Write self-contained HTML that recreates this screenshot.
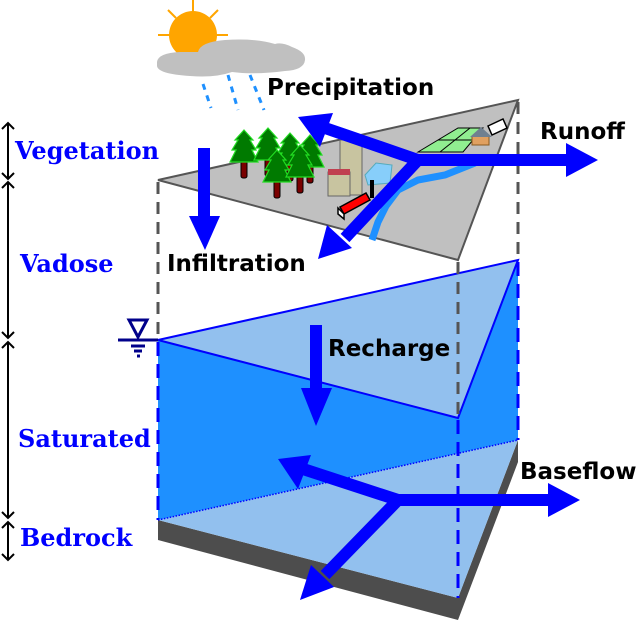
<!DOCTYPE html>
<html><head><meta charset="utf-8"><style>
html,body{margin:0;padding:0;background:#fff;}
svg{display:block;}
.lab{font-family:"DejaVu Serif","Liberation Serif",serif;font-weight:bold;font-size:24px;fill:#0000ff;}
.t{font-family:"DejaVu Sans","Liberation Sans",sans-serif;font-weight:bold;font-size:23px;fill:#000;}
</style></head><body>
<svg width="638" height="625" viewBox="0 0 638 625" xmlns="http://www.w3.org/2000/svg">
<defs>
<g id="tree">
<rect x="-3" y="28" width="6" height="20" rx="2" fill="#7a0000" stroke="#000" stroke-width="1"/>
<polygon points="0,0 9,10 6,10 12,20 8,20 14,32 -14,32 -8,20 -12,20 -6,10 -9,10" fill="#007a00" stroke="#22dd22" stroke-width="1.2"/>
</g>
</defs>
<polygon points="158,520 458,598 518,440 518,462 458,620 158,540" fill="#4d4d4d"/>
<polygon points="158,520 518,440 458,598" fill="#92c0ee"/>
<polygon points="158,340 458,418 518,260 518,440 158,520" fill="#1e90ff"/>
<polygon points="158,340 518,260 458,418" fill="#92c0ee" stroke="#0000ff" stroke-width="2"/>
<line x1="158" y1="520" x2="518" y2="440" stroke="#0000ff" stroke-width="1.5" stroke-dasharray="1.5,1.5"/>
<line x1="158" y1="182" x2="158" y2="340" stroke="#555" stroke-width="3" stroke-dasharray="12,8"/>
<line x1="458" y1="262" x2="458" y2="418" stroke="#555" stroke-width="3" stroke-dasharray="12,8"/>
<line x1="518" y1="102" x2="518" y2="260" stroke="#555" stroke-width="3" stroke-dasharray="12,8"/>
<line x1="158" y1="342" x2="158" y2="520" stroke="#0000ff" stroke-width="3" stroke-dasharray="14,8"/>
<line x1="458" y1="420" x2="458" y2="598" stroke="#0000ff" stroke-width="3" stroke-dasharray="14,8"/>
<line x1="518" y1="262" x2="518" y2="440" stroke="#0000ff" stroke-width="3" stroke-dasharray="14,8"/>
<polygon points="158,180 518,100 458,260" fill="#c0c0c0" stroke="#555" stroke-width="2"/>
<path d="M475,163 L445,175 L418,180 L398,190 L386,206 L378,222 L372,240" fill="none" stroke="#1e90ff" stroke-width="7"/>
<polygon points="418,152 458,128 483,128 463,152" fill="#90ee90" stroke="#000" stroke-width="1"/>
<line x1="438" y1="140" x2="473" y2="140" stroke="#000"/>
<line x1="440" y1="152" x2="470" y2="128" stroke="#000"/>
<polygon points="488,126 503,119 507,128 492,135" fill="#fff" stroke="#000" stroke-width="1.5"/>
<rect x="472" y="136" width="17" height="9" fill="#e0a060" stroke="#8a5a20"/>
<polygon points="470,137 481,127 492,137" fill="#708090"/>
<rect x="340" y="140" width="22" height="55" fill="#c8c4a0" stroke="#666"/>
<rect x="328" y="172" width="22" height="24" fill="#c8c4a0" stroke="#666"/>
<rect x="328" y="169" width="22" height="6" fill="#c04050"/>
<polygon points="365,175 376,163 392,165 390,183 368,185" fill="#87cefa" stroke="#5ab"/>
<rect x="370" y="180" width="4" height="18" fill="#000"/>
<polygon points="340,207 366,193 370,200 344,214" fill="#ff0000" stroke="#000" stroke-width="1.5"/>
<polygon points="338,208 344,214 344,219 338,214" fill="#fff" stroke="#000" stroke-width="1.5"/>
<use href="#tree" x="244" y="130"/>
<use href="#tree" x="268" y="128"/>
<use href="#tree" x="290" y="133"/>
<use href="#tree" x="310" y="135"/>
<use href="#tree" x="277" y="150"/>
<use href="#tree" x="300" y="145"/>
<g stroke="#ffa500" stroke-width="2">
<line x1="193" y1="0" x2="193" y2="12"/><line x1="158" y1="35" x2="170" y2="35"/><line x1="216" y1="35" x2="228" y2="35"/>
<line x1="168" y1="10" x2="176" y2="18"/><line x1="218" y1="10" x2="210" y2="18"/>
</g>
<circle cx="193" cy="35" r="24" fill="#ffa500"/>
<path d="M157,62 Q158,53 180,52 L198,52 Q200,42 225,40 Q255,38 275,44 Q282,42 292,47 Q306,52 305,60 Q304,70 285,71 Q255,75 232,72 Q215,78 190,76 Q158,74 157,66 Z" fill="#c0c0c0"/>
<g stroke="#1e90ff" stroke-width="3" stroke-dasharray="6,6">
<line x1="203" y1="84" x2="211" y2="108"/><line x1="228" y1="75" x2="238" y2="110"/><line x1="250" y1="75" x2="264" y2="110"/>
</g>
<g fill="#0000ff" stroke="none">
<rect x="198" y="148" width="12" height="70"/>
<polygon points="189,216 220,216 205,250"/>
<rect x="310" y="325" width="12" height="65"/>
<polygon points="301,388 332,388 316,426"/>
</g>
<g stroke="#0000ff" stroke-width="12" fill="none">
<polyline points="325,128 418,160 575,160"/>
<line x1="418" y1="160" x2="345" y2="238"/>
<polyline points="300,468 398,500 555,500"/>
<line x1="398" y1="500" x2="325" y2="575"/>
</g>
<g fill="#0000ff">
<polygon points="298,117 333,113 320,147"/>
<polygon points="598,160 566,143 566,177"/>
<polygon points="318,259 327,225 352,248"/>
<polygon points="278,459 311,455 298,489"/>
<polygon points="580,500 548,483 548,517"/>
<polygon points="300,600 311,565 334,587"/>
</g>
<text class="t" x="267" y="95">Precipitation</text>
<text class="t" x="540" y="139">Runoff</text>
<text class="t" x="167" y="271">Infiltration</text>
<text class="t" x="328" y="356">Recharge</text>
<text class="t" x="520" y="479">Baseflow</text>
<g stroke="#00008b" stroke-width="3" fill="none">
<polygon points="129,320 147,320 138,337"/>
<line x1="118" y1="340" x2="158" y2="340"/>
<line x1="131" y1="346" x2="145" y2="346"/>
<line x1="134" y1="351" x2="142" y2="351"/>
<line x1="137" y1="356" x2="140" y2="356"/>
</g>
<g stroke="#000" stroke-width="2" fill="none">
<line x1="8" y1="123" x2="8" y2="179"/><polyline points="2,129 8,123 14,129"/><polyline points="2,173 8,179 14,173"/>
<line x1="8" y1="182" x2="8" y2="338"/><polyline points="2,188 8,182 14,188"/><polyline points="2,332 8,338 14,332"/>
<line x1="8" y1="342" x2="8" y2="518"/><polyline points="2,348 8,342 14,348"/><polyline points="2,512 8,518 14,512"/>
<line x1="8" y1="522" x2="8" y2="560"/><polyline points="2,528 8,522 14,528"/><polyline points="2,554 8,560 14,554"/>
</g>
<text class="lab" x="15" y="159">Vegetation</text>
<text class="lab" x="20" y="272">Vadose</text>
<text class="lab" x="18" y="447">Saturated</text>
<text class="lab" x="20" y="546">Bedrock</text>
</svg>
</body></html>
